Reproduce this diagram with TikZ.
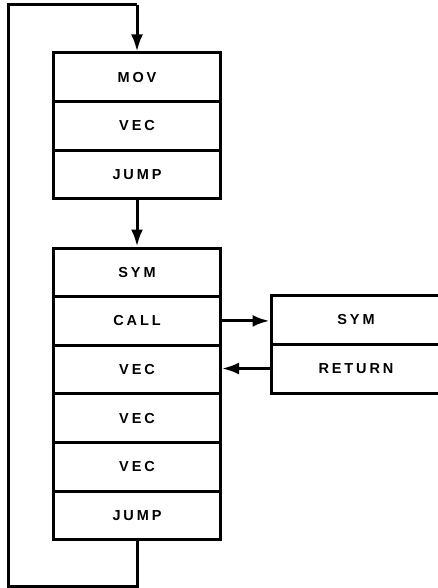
\documentclass[tikz,border=0pt]{standalone}
\usepackage{fontspec}
\setmainfont{Liberation Sans}[LetterSpace=20]
\usetikzlibrary{arrows.meta}
\begin{document}
\begin{tikzpicture}[x=1pt,y=-1pt,
  cell/.style={draw, line width=3pt, minimum width=167pt, minimum height=48.6pt, inner sep=0pt,
    font=\fontsize{14.5pt}{16pt}\selectfont\bfseries},
  rcell/.style={cell, minimum width=170pt, minimum height=49pt},
  link/.style={line width=3pt, -{Latex[length=17pt,width=12pt]}},
  wire/.style={line width=3pt}]
\useasboundingbox (0,0) rectangle (438,588);
% first block
\node[cell] (mov) at (137,77.3) {MOV};
\node[cell] (vec1) at (137,125.9) {VEC};
\node[cell] (jmp1) at (137,174.5) {JUMP};
% second block
\node[cell] (sym) at (137,272.3) {SYM};
\node[cell] (call) at (137,320.9) {CALL};
\node[cell] (vec2) at (137,369.5) {VEC};
\node[cell] (vec3) at (137,418.1) {VEC};
\node[cell] (vec4) at (137,466.7) {VEC};
\node[cell] (jmp2) at (137,515.3) {JUMP};
% subroutine
\node[rcell] (rsym) at (356,319.5) {SYM};
\node[rcell] (ret) at (356,368.5) {RETURN};
% connectors
\draw[link] (jmp1.south) -- (sym.north);
\draw[link] (call.east) -- (call.east -| rsym.west);
\draw[link] (ret.west) -- (ret.west -| vec2.east);
\coordinate (b1) at (137,586);
\coordinate (b2) at (8,586);
\coordinate (t1) at (8,5);
\coordinate (t2) at (137,5);
\draw[wire, line join=miter] (jmp2.south) -- (b1) -- (b2) -- (t1) -- (t2);
\draw[link] (t2) -- (mov.north);
\end{tikzpicture}
\end{document}
